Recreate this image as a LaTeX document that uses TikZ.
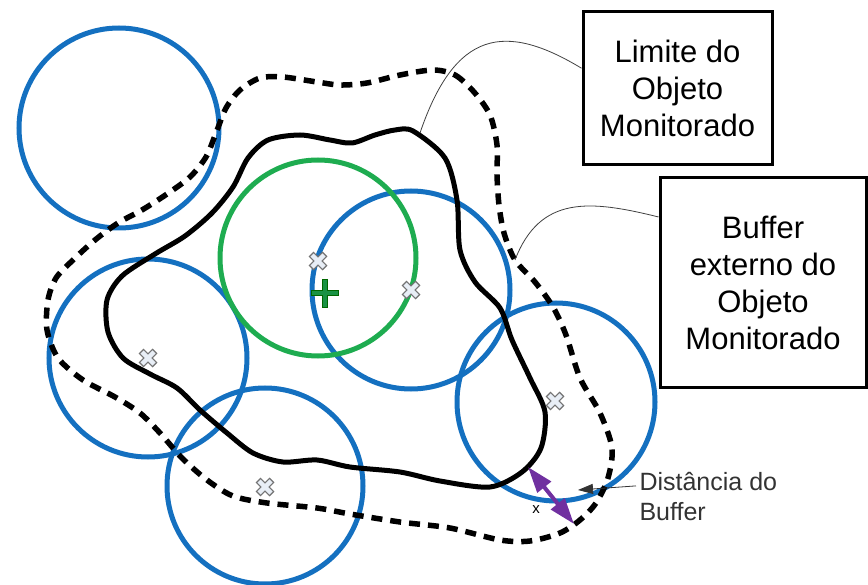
\documentclass[tikz,border=0pt]{standalone}
\usepackage{fontspec}
\setmainfont{Liberation Sans}
\usetikzlibrary{arrows.meta,calc}

\definecolor{bufblue}{RGB}{20,112,192}
\definecolor{bufgreen}{RGB}{30,172,80}
\definecolor{distpurple}{RGB}{112,48,160}
\definecolor{markfill}{RGB}{232,238,246}

\tikzset{
  bufcircle/.style={line width=5pt, bufblue},
  limline/.style={line width=5pt, black},
  extline/.style={line width=5.5pt, black, dash pattern=on 11pt off 8pt},
  infobox/.style={draw, line width=3pt, align=center, font=\fontsize{31}{37}\selectfont},
  leader/.style={line width=0.8pt, black!75},
  ctrmark/.pic={
    \draw[line width=7pt, black!55] (-7,-7) -- (7,7) (-7,7) -- (7,-7);
    \draw[line width=4.5pt, markfill] (-6,-6) -- (6,6) (-6,6) -- (6,-6);
  }
}

\begin{document}
\begin{tikzpicture}[x=1pt, y=-1pt]
\useasboundingbox (0,0) rectangle (868,585);

\draw[bufcircle] (119,128) circle (100);
\draw[bufcircle] (148,358) circle (99);
\draw[bufcircle] (265,486) circle (98);
\draw[bufcircle] (411,290) circle (99);
\draw[bufcircle] (556,402) circle (99);
\draw[line width=5pt, bufgreen] (318,258) circle (98);

\draw[limline] plot[smooth cycle] coordinates {
  (413,131) (445,158) (457,200) (460,250) (475,282) (500,308) (512,340)
  (530,378) (545,412) (541,448) (522,472) (490,487) (440,481) (400,472)
  (350,467) (317,460) (283,462) (253,453) (227,433) (200,410) (177,388)
  (150,374) (123,358) (108,332) (107,300) (122,276) (155,254) (185,236)
  (212,213) (233,187) (248,158) (268,140) (300,135) (330,140) (352,143)
  (375,135) (395,130)};

\draw[extline] plot[smooth cycle] coordinates {
  (433,70) (455,75) (474,92) (490,115) (497,145) (497,175) (499,205)
  (504,233) (515,260) (535,282) (553,307) (566,335) (580,378) (600,413)
  (612,448) (608,478) (596,503) (580,520) (560,533) (530,541) (500,540)
  (450,528) (400,522) (350,514) (317,508) (267,503) (233,496) (207,480)
  (182,458) (160,433) (140,413) (115,397) (83,380) (58,358) (47,330)
  (48,300) (56,278) (73,260) (95,240) (118,223) (142,210) (167,194)
  (190,177) (206,157) (216,133) (226,108) (240,90) (260,78) (283,77)
  (317,82) (340,85) (367,83) (400,75)};

\pic at (318,261) {ctrmark};
\pic at (411,290) {ctrmark};
\pic at (148,358) {ctrmark};
\pic at (265,487) {ctrmark};
\pic at (555,401) {ctrmark};

\draw[line width=6.5pt, green!40!black] (311,293) -- (339,293) (325,279) -- (325,308);
\draw[line width=4pt, bufgreen!85!black] (312,293) -- (338,293) (325,280) -- (325,307);

\node[infobox, minimum width=189pt, minimum height=153pt] (lim) at (677.5,88.5)
  {Limite do\\Objeto\\Monitorado};
\node[infobox, minimum width=206pt, minimum height=210pt] (ext) at (763,283)
  {Buffer\\externo do\\Objeto\\Monitorado};

\coordinate (limtip) at (420,133);
\coordinate (exttip) at (515,260);
\draw[leader] ($(lim.north west)!0.37!(lim.south west)$) .. controls (505,22) and (455,30) .. (limtip);
\draw[leader] ($(ext.north west)!0.19!(ext.south west)$) .. controls (590,200) and (540,195) .. (exttip);

\coordinate (din) at (528,467);
\coordinate (dout) at (574,524);
\draw[line width=4pt, distpurple, {Triangle[length=26pt,width=17pt]}-{Triangle[length=26pt,width=17pt]}] (din) -- (dout);
\node[font=\fontsize{15}{18}\selectfont] (xlbl) at (536,510) {x};

\node[anchor=west, align=left, text=black!80, font=\fontsize{25}{30}\selectfont] (dist) at (636,497)
  {Distância do\\Buffer};
\coordinate (disttip) at (578,490);
\draw[line width=0.8pt, black!80, -{Triangle[length=15pt,width=10pt]}] ($(dist.north west)!0.3!(dist.south west)$) -- (disttip);
\end{tikzpicture}
\end{document}
